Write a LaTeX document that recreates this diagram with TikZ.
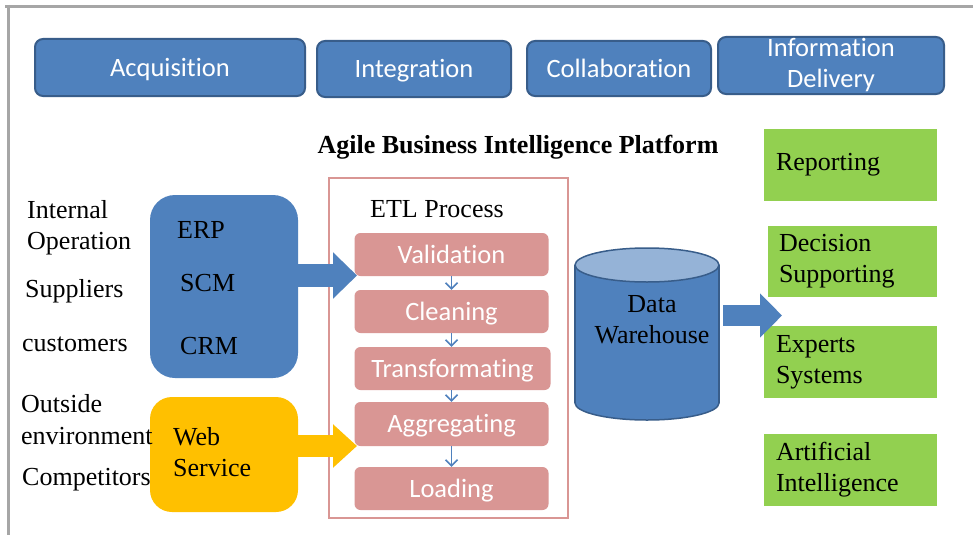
\documentclass[tikz,border=0pt]{standalone}
\usepackage{fontspec}
\setmainfont{Liberation Serif}
\newfontfamily\carl[Ligatures={NoCommon}]{Carlito}
\usetikzlibrary{arrows.meta}
\definecolor{blu}{HTML}{4F81BD}
\definecolor{bluD}{HTML}{385D8A}
\definecolor{bluL}{HTML}{95B3D7}
\definecolor{pnk}{HTML}{D99694}
\definecolor{yel}{HTML}{FFC000}
\definecolor{grn}{HTML}{92D050}
\definecolor{frm}{HTML}{A6A6A6}
\begin{document}
\begin{tikzpicture}[x=1pt,y=-1pt,
  topbox/.style={draw=bluD, line width=2pt, fill=blu, rounded corners=8pt, text=white,
    font=\carl\fontsize{26.5}{31}\selectfont, align=center, inner sep=0pt},
  onel/.style={text height=17pt, text depth=0pt},
  etlbox/.style={fill=pnk, rounded corners=6pt, text=white, minimum width=194pt,
    minimum height=43pt, font=\carl\fontsize{26.5}{31}\selectfont, inner sep=0pt, onel},
  grnbox/.style={fill=grn, inner xsep=12pt, inner ysep=0pt, align=left,
    font=\fontsize{26}{31}\selectfont, minimum height=72pt},
  lbl/.style={anchor=base west, inner sep=0pt, font=\fontsize{26}{31}\selectfont},
  smallarrow/.style={blu, line width=1.5pt, -{Straight Barb[length=6pt,width=12pt]}},
]
\useasboundingbox (0,0) rectangle (973,535);
\fill[white] (0,0) rectangle (973,535);
% frame
\draw[frm, line width=3pt] (5,6.5) -- (973,6.5);
\draw[frm, line width=3pt] (8.5,5) -- (8.5,535);

% top boxes
\node[topbox, onel, minimum width=270pt, minimum height=57pt] (acq) at (170,67.5) {Acquisition};
\node[topbox, onel, minimum width=194pt, minimum height=56pt] (integ) at (414,69) {Integration};
\node[topbox, onel, minimum width=184pt, minimum height=55pt] (collab) at (619,68.5) {Collaboration};
\node[topbox, minimum width=226pt, minimum height=57pt] (info) at (831,65.5) {Information\\Delivery};

% title
\node[anchor=base, inner sep=0pt, font=\bfseries\fontsize{26}{31}\selectfont] (title) at (518,153) {Agile Business Intelligence Platform};

% source boxes
\node[fill=blu, rounded corners=25pt, minimum width=148pt, minimum height=183pt, inner sep=0pt] (src) at (224,286.5) {};
\node[fill=yel, rounded corners=22pt, minimum width=148pt, minimum height=115pt, inner sep=0pt] (ws) at (224,454.5) {};

% left labels
\node[lbl] (l1) at (27,218) {Internal};
\node[lbl] (l2) at (27,249) {Operation};
\node[lbl] (l3) at (25,297) {Suppliers};
\node[lbl] (l4) at (22,351) {customers};
\node[lbl] (l5) at (21,412) {Outside};
\node[lbl] (l6) at (21,444) {environment};
\node[lbl] (l7) at (22,485) {Competitors};

\node[lbl] (erp) at (177,238) {ERP};
\node[lbl] (scm) at (180,291) {SCM};
\node[lbl] (crm) at (180,354) {CRM};
\node[lbl] (web) at (173,445) {Web};
\node[lbl] (svc) at (173,476) {Service};

% ETL frame
\node[draw=pnk, line width=2pt, minimum width=239pt, minimum height=340pt, inner sep=0pt] (etl) at (448.5,348) {};
\node[lbl] (etlt) at (370,217) {ETL Process};

\node[etlbox] (val) at (451.5,254.5) {Validation};
\node[etlbox] (cln) at (451.5,311.5) {Cleaning};
\node[etlbox, minimum width=196pt] (trf) at (452.5,368.5) {Transformating};
\node[etlbox, minimum height=44pt] (agg) at (451.5,424) {Aggregating};
\node[etlbox] (lod) at (451.5,488.5) {Loading};

\draw[smallarrow] (val.south) -- (cln.north);
\draw[smallarrow] (cln.south) -- (trf.north -| cln.south);
\draw[smallarrow] (trf.south -| cln.south) -- (agg.north);
\draw[smallarrow] (agg.south) -- (lod.north);

% big arrows into ETL
\coordinate (tipA) at (357,275.5);
\coordinate (tipB) at (357,446);
\draw[blu, line width=23pt, -{Triangle[length=24pt,width=45pt]}] (src.east |- tipA) -- (tipA);
\draw[yel, line width=22pt, -{Triangle[length=24pt,width=42pt]}] (ws.east |- tipB) -- (tipB);

% cylinder
\filldraw[fill=blu, draw=bluD, line width=1.5pt] (647,403) ellipse (72 and 17);
\fill[blu] (575,265) rectangle (719,403);
\draw[bluD, line width=1.5pt] (575,265) -- (575,403) (719,265) -- (719,403);
\filldraw[fill=bluL, draw=bluD, line width=1.5pt] (647,265) ellipse (72 and 17);
\node[inner sep=0pt, minimum width=144pt, minimum height=172pt] (dw) at (647,334) {};
\node[inner sep=0pt, align=center, font=\fontsize{26}{31}\selectfont] (dwt) at (652,320) {Data\\Warehouse};

% green boxes
\node[grnbox, minimum width=173pt, text width=149pt] (rep) at (850.5,165) {Reporting};
\node[grnbox, inner xsep=11pt, minimum width=169pt, text width=147pt, minimum height=71pt] (dec) at (852.5,261.5) {Decision\\Supporting};
\node[grnbox, minimum width=173pt, text width=149pt] (exp) at (850.5,362) {Experts\\Systems};
\node[grnbox, minimum width=173pt, text width=149pt] (ai) at (850.5,470) {Artificial\\Intelligence};

% arrow out of warehouse
\coordinate (dwtip) at (782,315.5);
\draw[blu, line width=21pt, -{Triangle[length=22pt,width=43pt]}] ([xshift=4pt]dw.east |- dwtip) -- (dwtip);
\end{tikzpicture}
\end{document}
